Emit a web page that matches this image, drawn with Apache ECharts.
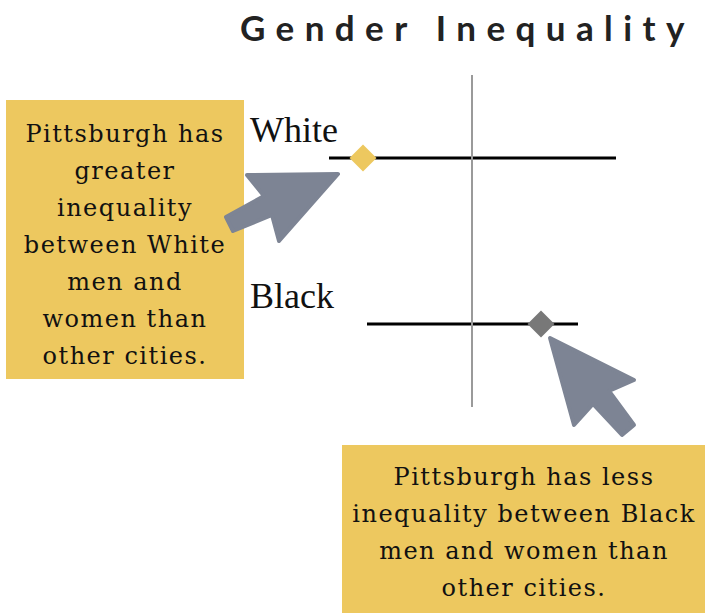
<!DOCTYPE html>
<html>
<head>
<meta charset="utf-8">
<script src="https://cdn.jsdelivr.net/npm/echarts@6/dist/echarts.min.js"></script>
<style>
html, body { margin: 0; padding: 0; background: #fff; }
#chart { width: 705px; height: 613px; }
/* svg renderer: spread the letters like the original */
#chart text[style*="35px"] { letter-spacing: 10.4px; }
#chart text[style*="DejaVu"] { letter-spacing: 1.5px; }
</style>
</head>
<body>
<div id="chart"></div>
<script>
// data
var titleText = 'Gender Inequality';
var groups = ['White', 'Black'];
var lows = [-1.43, -1.05];
var highs = [1.44, 1.06];
var pittsburgh = [-1.09, 0.69];
var pointColors = ['#EDC85F', '#787878'];
var noteWhite = 'Pittsburgh has\ngreater\ninequality\nbetween White\nmen and\nwomen than\nother cities.';
var noteBlack = 'Pittsburgh has less\ninequality between Black\nmen and women than\nother cities.';

var boxColor = '#EDC85F';
var arrowColor = '#7D8494';
var noteFont = '24px "DejaVu Serif"';

var series = [];

// vertical reference line at 0
series.push({
    type: 'line',
    z: 1,
    silent: true,
    symbol: 'none',
    data: [[0, groups[0]]],
    markLine: {
        silent: true,
        symbol: 'none',
        label: { show: false },
        lineStyle: { color: '#9a9a9a', width: 2, type: 'solid' },
        data: [{ xAxis: 0 }]
    }
});

// range lines
for (var i = 0; i < groups.length; i++) {
    series.push({
        name: groups[i],
        type: 'line',
        z: 2,
        symbol: 'none',
        lineStyle: { color: '#000', width: 3 },
        data: [[lows[i], groups[i]], [highs[i], groups[i]]]
    });
}

// Pittsburgh points
var points = [];
for (var j = 0; j < groups.length; j++) {
    points.push({
        value: [pittsburgh[j], groups[j]],
        itemStyle: { color: pointColors[j], opacity: 1 }
    });
}
series.push({
    type: 'scatter',
    z: 3,
    symbol: 'diamond',
    symbolSize: 27,
    data: points
});

var option = {
    backgroundColor: '#fff',
    animation: false,
    title: {
        text: titleText,
        left: 235,
        top: 4,
        textStyle: {
            fontFamily: 'Lato',
            fontWeight: 'bold',
            fontSize: 35,
            color: '#222'
        }
    },
    grid: { left: 272, right: 33, top: 75, bottom: 206 },
    xAxis: {
        type: 'value',
        min: -2,
        max: 2,
        show: false
    },
    yAxis: {
        type: 'category',
        data: groups,
        inverse: true,
        axisLine: { show: false, onZero: false },
        axisTick: { show: false },
        splitLine: { show: false },
        axisLabel: {
            align: 'left',
            margin: 22,
            verticalAlign: 'bottom',
            padding: [0, 0, 10, 0],
            fontFamily: 'Liberation Serif',
            fontSize: 36,
            color: '#111'
        }
    },
    graphic: [
        { type: 'rect', shape: { x: 6, y: 100, width: 238, height: 279 }, style: { fill: boxColor } },
        {
            type: 'text', x: 125, y: 245,
            style: { text: noteWhite, font: noteFont, fill: '#111', textAlign: 'center', textVerticalAlign: 'middle', lineHeight: 37 }
        },
        { type: 'rect', shape: { x: 342, y: 445, width: 363, height: 168 }, style: { fill: boxColor } },
        {
            type: 'text', x: 524, y: 532,
            style: { text: noteBlack, font: noteFont, fill: '#111', textAlign: 'center', textVerticalAlign: 'middle', lineHeight: 37 }
        },
        {
            type: 'polygon',
            shape: { points: [[338, 174], [247, 175], [264, 196], [226, 217], [233, 231], [272, 215], [279, 241]] },
            style: { fill: arrowColor, stroke: arrowColor, lineWidth: 4, lineJoin: 'round' }
        },
        {
            type: 'polygon',
            shape: { points: [[550, 338], [634, 380], [609, 391], [634, 425], [622, 435], [593, 404], [574, 425]] },
            style: { fill: arrowColor, stroke: arrowColor, lineWidth: 4, lineJoin: 'round' }
        }
    ],
    series: series
};

var myChart = echarts.init(document.getElementById('chart'), null, { renderer: 'svg' });
myChart.setOption(option);
</script>
</body>
</html>
